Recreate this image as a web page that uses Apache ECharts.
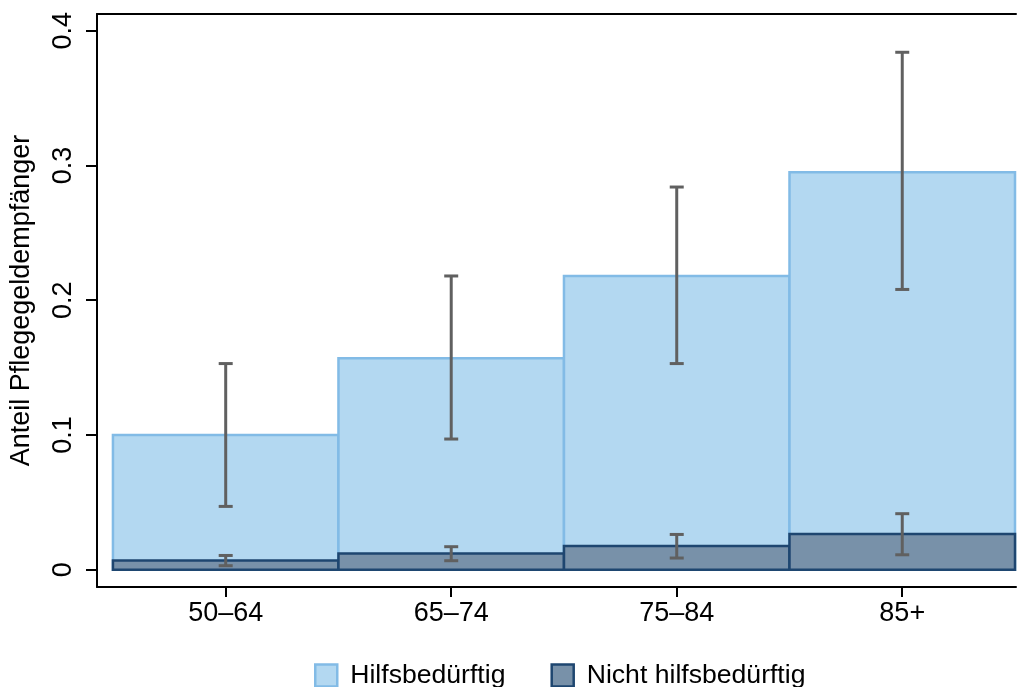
<!DOCTYPE html>
<html>
<head>
<meta charset="utf-8">
<script src="https://cdn.jsdelivr.net/npm/echarts@6/dist/echarts.min.js"></script>
<style>
  html, body { margin: 0; padding: 0; background: #fff; }
  #chart { width: 1020px; height: 687px; }
</style>
</head>
<body>
<div id="chart"></div>
<script>
// age groups, placed at x = 1..4
var groups = ['50–64', '65–74', '75–84', '85+'];
var positions = [1, 2, 3, 4];

// share of care-allowance recipients
var hilfsValues = [0.100, 0.157, 0.218, 0.295];
var hilfsLower = [0.047, 0.097, 0.153, 0.208];
var hilfsUpper = [0.153, 0.218, 0.284, 0.384];

var nichtValues = [0.0069, 0.0121, 0.0176, 0.0265];
var nichtLower = [0.0030, 0.0067, 0.0087, 0.0111];
var nichtUpper = [0.0106, 0.0171, 0.0262, 0.0416];

var yTicks = [0, 0.1, 0.2, 0.3, 0.4];

var font = '"Liberation Sans", Arial, sans-serif';
var lightFill = '#b3d8f1', lightLine = '#82bbe6';
var darkFill = '#7891a9', darkLine = '#1e4670';
var errColor = '#606060';

function zip(a, b, c) {
    var out = [];
    for (var i = 0; i < a.length; i++) {
        out.push(c ? [a[i], b[i], c[i]] : [a[i], b[i]]);
    }
    return out;
}

function renderBar(params, api) {
    var x = api.value(0), v = api.value(1);
    var p1 = api.coord([x - 0.5, v]);
    var p2 = api.coord([x + 0.5, 0]);
    return {
        type: 'rect',
        shape: { x: p1[0], y: p1[1], width: p2[0] - p1[0], height: p2[1] - p1[1] },
        style: api.style()
    };
}

function renderErr(params, api) {
    var x = api.value(0);
    var lo = api.coord([x, api.value(1)]);
    var hi = api.coord([x, api.value(2)]);
    var cap = 7;
    var st = { stroke: errColor, lineWidth: 3 };
    return {
        type: 'group',
        children: [
            { type: 'line', shape: { x1: lo[0], y1: lo[1], x2: hi[0], y2: hi[1] }, style: st },
            { type: 'line', shape: { x1: lo[0] - cap, y1: lo[1], x2: lo[0] + cap, y2: lo[1] }, style: st },
            { type: 'line', shape: { x1: hi[0] - cap, y1: hi[1], x2: hi[0] + cap, y2: hi[1] }, style: st }
        ]
    };
}

var chart = echarts.init(document.getElementById('chart'));
var axisLine = { show: true, onZero: false, lineStyle: { color: '#000', width: 2 } };
var option = {
    animation: false,
    backgroundColor: '#fff',
    textStyle: { fontFamily: font },
    grid: { left: 93, right: 4, top: 14, bottom: 100 },
    legend: {
        left: 309,
        top: 657,
        itemWidth: 22,
        itemHeight: 22,
        itemGap: 45,
        icon: 'rect',
        textStyle: { fontSize: 26.6, color: '#000', fontFamily: font, padding: [0, 0, 0, 8] },
        data: [
            { name: 'Hilfsbedürftig', itemStyle: { color: lightFill, borderColor: lightLine, borderWidth: 2.5 } },
            { name: 'Nicht hilfsbedürftig', itemStyle: { color: darkFill, borderColor: darkLine, borderWidth: 2.5 } }
        ]
    },
    xAxis: [
        {
            type: 'value',
            min: 0.4293,
            max: 4.5044,
            splitLine: { show: false },
            axisLine: axisLine,
            axisTick: { show: true, customValues: positions, length: 10, lineStyle: { color: '#000', width: 2 } },
            axisLabel: {
                customValues: positions,
                fontSize: 27,
                color: '#000',
                fontFamily: font,
                margin: 13,
                formatter: function (v) { return groups[Math.round(v) - 1]; }
            }
        },
        {
            type: 'value',
            position: 'top',
            min: 0.4293,
            max: 4.5044,
            splitLine: { show: false },
            axisLine: axisLine,
            axisTick: { show: false },
            axisLabel: { show: false }
        }
    ],
    yAxis: {
        type: 'value',
        min: -0.0128,
        max: 0.4124,
        name: 'Anteil Pflegegeldempfänger',
        nameLocation: 'middle',
        nameGap: 62,
        nameTextStyle: { fontSize: 27, color: '#000', fontFamily: font },
        splitLine: { show: false },
        axisLine: axisLine,
        axisTick: { show: true, customValues: yTicks, length: 11, lineStyle: { color: '#000', width: 2 } },
        axisLabel: {
            customValues: yTicks,
            rotate: 90,
            fontSize: 27,
            color: '#000',
            fontFamily: font,
            margin: 20,
            formatter: function (v) { return v === 0 ? '0' : String(+v.toFixed(1)); }
        }
    },
    series: [
        {
            name: 'Hilfsbedürftig',
            type: 'custom',
            renderItem: renderBar,
            itemStyle: { color: lightFill, borderColor: lightLine, borderWidth: 2.5 },
            data: zip(positions, hilfsValues),
            z: 1
        },
        {
            name: 'Nicht hilfsbedürftig',
            type: 'custom',
            renderItem: renderBar,
            itemStyle: { color: darkFill, borderColor: darkLine, borderWidth: 2.5 },
            data: zip(positions, nichtValues),
            z: 2
        },
        {
            name: 'ci_hilfs',
            type: 'custom',
            renderItem: renderErr,
            data: zip(positions, hilfsLower, hilfsUpper),
            z: 3
        },
        {
            name: 'ci_nicht',
            type: 'custom',
            renderItem: renderErr,
            data: zip(positions, nichtLower, nichtUpper),
            z: 3
        }
    ]
};
chart.setOption(option);
</script>
</body>
</html>
